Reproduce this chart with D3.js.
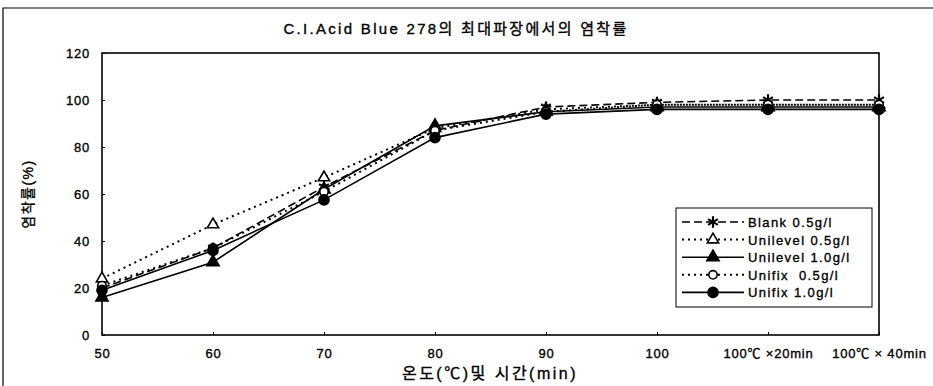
<!DOCTYPE html>
<html>
<head>
<meta charset="utf-8">
<script src="https://cdn.jsdelivr.net/npm/d3@7"></script>
<style>
  body { margin: 0; background: #fff; }
  svg { display: block; }
  text { font-family: "Liberation Sans", "Noto Sans CJK KR", sans-serif; fill: #000; stroke: #000; stroke-width: 0.35px; }
</style>
</head>
<body>
<div id="chart"></div>
<script>
// categories on the x axis
const categories = ['50', '60', '70', '80', '90', '100', '100℃ ×20min', '100℃ × 40min'];
const yTicks = [0, 20, 40, 60, 80, 100, 120];

// series values (dyeing rate, %)
const blank05 = [20, 37, 63, 87, 97, 99, 100, 100];
const unilevel05 = [24, 47, 67, 88, 96, 98, 98, 98];
const unilevel10 = [16, 31, 62, 89, 95, 97, 97, 97];
const unifix05 = [21, 37, 61, 87, 95, 98, 98, 98];
const unifix10 = [19, 36, 57.5, 84, 94, 96, 96, 96];

const seriesNames = ['Blank 0.5g/l', 'Unilevel 0.5g/l', 'Unilevel 1.0g/l', 'Unifix  0.5g/l', 'Unifix 1.0g/l'];

const series = [
  { name: seriesNames[0], values: blank05, dash: '8,4', symbol: d3.symbolAsterisk, fill: false, stroke: true, size: 90 },
  { name: seriesNames[1], values: unilevel05, dash: '2,4', symbol: d3.symbolTriangle, fill: false, size: 55 },
  { name: seriesNames[2], values: unilevel10, dash: null, symbol: d3.symbolTriangle, fill: true, size: 65 },
  { name: seriesNames[3], values: unifix05, dash: '2,4', symbol: d3.symbolCircle, fill: false, size: 55 },
  { name: seriesNames[4], values: unifix10, dash: null, symbol: d3.symbolCircle, fill: true, size: 80 },
];

const width = 933, height = 386;
const margin = { left: 102, right: 54, top: 53, bottom: 51 };

const svg = d3.select('#chart').append('svg')
  .attr('width', width)
  .attr('height', height);

// outer frame (only left and top visible in scan)
svg.append('path')
  .attr('d', `M3,${height} L3,8 L${width},8`)
  .attr('fill', 'none')
  .attr('stroke', '#000')
  .attr('stroke-width', 1.2);

const x = d3.scalePoint()
  .domain(categories)
  .range([margin.left, width - margin.right]);

const y = d3.scaleLinear()
  .domain([0, 120])
  .range([height - margin.bottom, margin.top]);

// title
svg.append('text')
  .attr('x', 456)
  .attr('y', 34)
  .attr('text-anchor', 'middle')
  .style('font-size', '15px')
  .style('letter-spacing', '2.3px')
  .text('C.I.Acid Blue 278의 최대파장에서의 염착률');

// plot box
svg.append('rect')
  .attr('x', margin.left)
  .attr('y', margin.top)
  .attr('width', width - margin.left - margin.right)
  .attr('height', height - margin.top - margin.bottom)
  .attr('fill', 'none')
  .attr('stroke', '#000')
  .attr('stroke-width', 1.6);

// axes
const gx = svg.append('g')
  .attr('transform', `translate(0,${height - margin.bottom})`)
  .call(d3.axisBottom(x).tickSize(-3).tickPadding(14));
const gy = svg.append('g')
  .attr('transform', `translate(${margin.left},0)`)
  .call(d3.axisLeft(y).tickValues(yTicks).tickSize(-3).tickPadding(12));

[gx, gy].forEach(g => {
  g.select('.domain').remove();
  g.selectAll('.tick line').attr('stroke', '#000');
  g.selectAll('text')
    .style('font-size', '13px')
    .style('font-family', '"Liberation Sans", "Noto Sans CJK KR", sans-serif')
    .style('letter-spacing', '0.8px')
    .attr('fill', '#000');
});

// axis titles
svg.append('text')
  .attr('x', 490)
  .attr('y', 379)
  .attr('text-anchor', 'middle')
  .style('font-size', '16px')
  .style('letter-spacing', '2.5px')
  .text('온도(℃)및 시간(min)');

svg.append('text')
  .attr('transform', `translate(33,${(margin.top + height - margin.bottom) / 2}) rotate(-90)`)
  .attr('text-anchor', 'middle')
  .style('font-size', '14px')
  .style('letter-spacing', '1.5px')
  .text('염착률(%)');

// lines
const line = d3.line()
  .x((d, i) => x(categories[i]))
  .y(d => y(d));

const gLines = svg.append('g');
series.forEach(s => {
  gLines.append('path')
    .datum(s.values)
    .attr('fill', 'none')
    .attr('stroke', '#000')
    .attr('stroke-width', s.dash === '2,4' ? 2 : 1.6)
    .attr('stroke-dasharray', s.dash)
    .attr('d', line);
});

function drawMarker(g, s, cx, cy) {
  g.append('path')
    .attr('transform', `translate(${cx},${cy})`)
    .attr('d', d3.symbol().type(s.symbol).size(s.size)())
    .attr('fill', s.stroke ? 'none' : (s.fill ? '#000' : '#fff'))
    .attr('stroke', '#000')
    .attr('stroke-width', s.stroke ? 2.2 : 1.6);
}

series.forEach(s => {
  const g = svg.append('g');
  s.values.forEach((v, i) => drawMarker(g, s, x(categories[i]), y(v)));
});

// legend
const lg = svg.append('g').attr('transform', 'translate(676,208)');
lg.append('rect')
  .attr('width', 196)
  .attr('height', 99)
  .attr('fill', '#fff')
  .attr('stroke', '#000')
  .attr('stroke-width', 1);

series.forEach((s, i) => {
  const ry = 14 + i * 17.6;
  lg.append('line')
    .attr('x1', 6).attr('x2', 68)
    .attr('y1', ry).attr('y2', ry)
    .attr('stroke', '#000')
    .attr('stroke-width', s.dash === '2,4' ? 2 : 1.6)
    .attr('stroke-dasharray', s.dash);
  drawMarker(lg, s, 37, ry);
  lg.append('text')
    .attr('x', 72)
    .attr('y', ry + 5)
    .style('font-size', '13px')
    .style('letter-spacing', '1.4px')
    .style('white-space', 'pre')
    .text(s.name);
});
</script>
</body>
</html>
